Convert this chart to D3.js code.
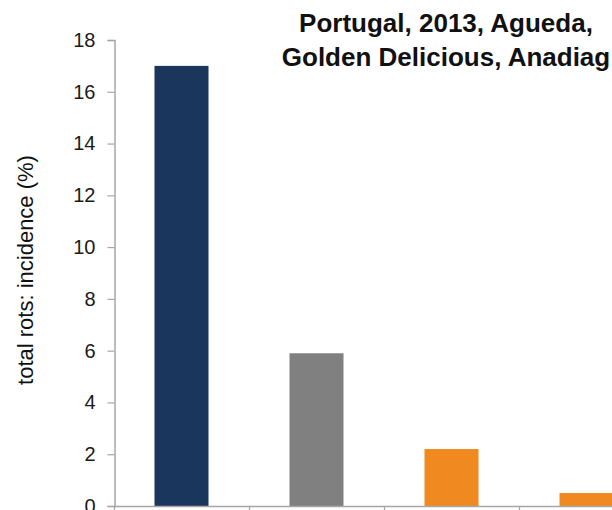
<!DOCTYPE html>
<html>
<head>
<meta charset="utf-8">
<script src="https://cdn.jsdelivr.net/npm/d3@7"></script>
<style>
  html, body { margin: 0; padding: 0; background: #fff; overflow: hidden; }
  svg { display: block; }
</style>
</head>
<body>
<script>
// Total rots incidence per treatment
const categories = ["A", "B", "C", "D"];
const values = [17, 5.9, 2.2, 0.5];
const barColors = ["#1a365c", "#808080", "#f08a20", "#f08a20"];
const yTicks = [0, 2, 4, 6, 8, 10, 12, 14, 16, 18];
const titleLines = ["Portugal, 2013, Agueda,", "Golden Delicious, Anadiag"];
const yLabel = "total rots: incidence (%)";

const W = 612, H = 510;
const svg = d3.select("body").append("svg").attr("width", W).attr("height", H);

const x0 = 114, y0 = 506, yTop = 40;
const x = d3.scaleBand().domain(categories).range([x0, x0 + 540])
  .paddingInner(0.6).paddingOuter(0.3);
const y = d3.scaleLinear().domain([0, 18]).range([y0, yTop]);

const axisColor = "#a6a6a6";
const font = "Liberation Sans, Arial, sans-serif";

// bars
svg.append("g").selectAll("rect").data(values).join("rect")
  .attr("x", (d, i) => x(categories[i]))
  .attr("y", d => y(d))
  .attr("width", x.bandwidth())
  .attr("height", d => y0 - y(d))
  .attr("fill", (d, i) => barColors[i]);

// y axis
const yAxis = svg.append("g").attr("transform", `translate(${x0 + 0.5},0)`)
  .call(d3.axisLeft(y).tickValues(yTicks).tickSize(7).tickPadding(12).tickFormat(d3.format("d")));
yAxis.select(".domain").attr("stroke", axisColor).attr("stroke-width", 1.5);
yAxis.selectAll(".tick line").attr("stroke", axisColor).attr("stroke-width", 1.2);
yAxis.selectAll(".tick text").attr("font-family", font).attr("font-size", 20).attr("fill", "#1a1a1a");

// x axis with boundary ticks between categories
const step = x.step();
const boundaries = categories.map((c, i) => x0 + i * step);
svg.append("line").attr("x1", x0).attr("x2", W).attr("y1", y0 + 0.5).attr("y2", y0 + 0.5)
  .attr("stroke", axisColor).attr("stroke-width", 1.5);
svg.append("g").selectAll("line").data(boundaries).join("line")
  .attr("x1", d => d + 0.5).attr("x2", d => d + 0.5)
  .attr("y1", y0).attr("y2", y0 + 6)
  .attr("stroke", axisColor).attr("stroke-width", 1.2);

// y label
svg.append("text")
  .attr("transform", `translate(33,270) rotate(-90)`)
  .attr("text-anchor", "middle")
  .attr("font-family", font).attr("font-size", 22).attr("fill", "#111")
  .text(yLabel);

// title
svg.append("g").selectAll("text").data(titleLines).join("text")
  .attr("x", 446).attr("y", (d, i) => 32 + i * 34)
  .attr("text-anchor", "middle")
  .attr("font-family", font).attr("font-size", 26).attr("font-weight", "bold").attr("fill", "#111")
  .text(d => d);
</script>
</body>
</html>
